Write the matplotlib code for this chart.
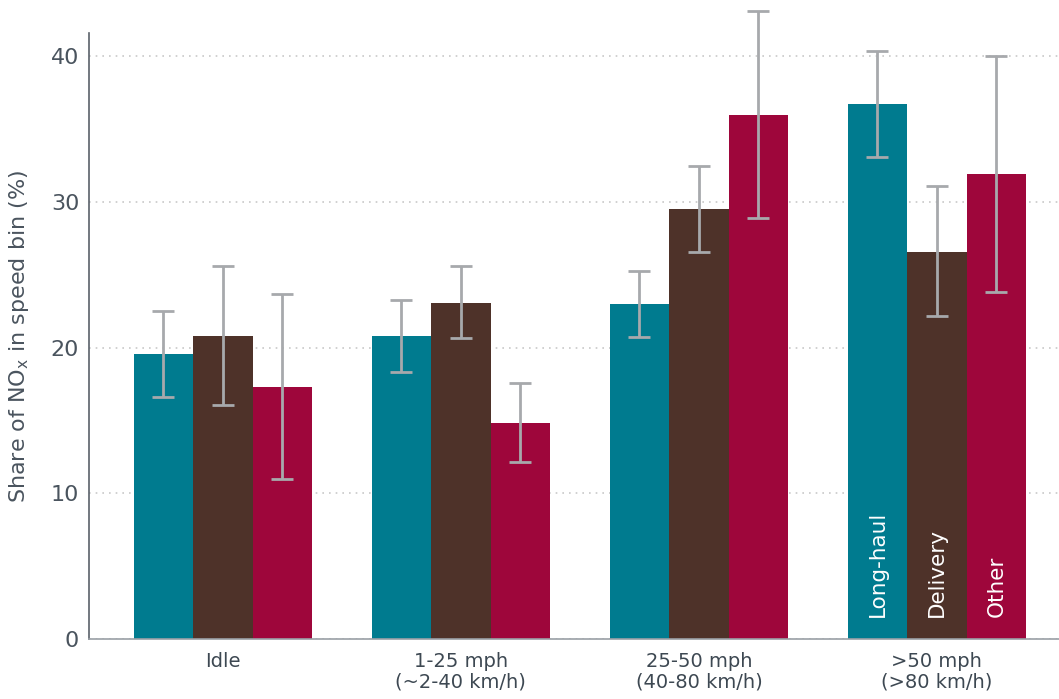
import matplotlib
matplotlib.use("Agg")
import matplotlib.pyplot as plt
import numpy as np

# Data
categories = ["Idle", "1-25 mph\n(~2-40 km/h)", "25-50 mph\n(40-80 km/h)", ">50 mph\n(>80 km/h)"]
series = ["Long-haul", "Delivery", "Other"]
long_haul = [19.55, 20.8, 23.0, 36.7]
delivery = [20.8, 23.05, 29.5, 26.6]
other = [17.3, 14.8, 36.0, 31.9]
long_haul_err_lo = [16.6, 18.3, 20.7, 33.1]
long_haul_err_hi = [22.5, 23.3, 25.25, 40.35]
delivery_err_lo = [16.05, 20.65, 26.55, 22.2]
delivery_err_hi = [25.6, 25.6, 32.5, 31.1]
other_err_lo = [11.0, 12.15, 28.9, 23.8]
other_err_hi = [23.7, 17.55, 43.1, 40.05]

colors = ["#007b8f", "#4e3229", "#9e063b"]
err_color = "#a7a9ac"
text_color = "#3d4852"

plt.rcParams['font.family'] = ['DejaVu Sans']

fig = plt.figure(figsize=(10.59, 6.99), dpi=100)
ax = fig.add_axes([0.084, 0.0858, 0.916, 0.867])

x = np.arange(len(categories))
width = 0.25
values = [long_haul, delivery, other]
lows = [long_haul_err_lo, delivery_err_lo, other_err_lo]
highs = [long_haul_err_hi, delivery_err_hi, other_err_hi]

for i, (vals, lo, hi) in enumerate(zip(values, lows, highs)):
    pos = x + (i - 1) * width
    vals = np.array(vals)
    yerr = [vals - np.array(lo), np.array(hi) - vals]
    ax.bar(pos, vals, width, color=colors[i], zorder=2)
    eb = ax.errorbar(pos, vals, yerr=yerr, fmt="none", ecolor=err_color,
                     elinewidth=2, capsize=8, capthick=2, zorder=3)
    for artist in eb.get_children():
        artist.set_clip_on(False)
    # series label inside the last group
    ax.text(pos[-1], 1.5, series[i], rotation=90, color="white",
            ha="center", va="bottom", fontsize=15.5)

ax.set_xlim(-0.563, 3.513)
ax.set_ylim(0, 41.6)
ax.set_yticks([0, 10, 20, 30, 40])
ax.set_xticks(x)
ax.set_xticklabels(categories, fontsize=14, color=text_color, linespacing=1.12)
ax.tick_params(axis="y", length=0, pad=7, labelsize=16, labelcolor="#4a545e")
ax.tick_params(axis="x", length=0, pad=9)

ax.grid(axis="y", linestyle=(0, (1, 3)), color="#c8c8c8", linewidth=1.2, zorder=0)
ax.set_axisbelow(True)

for s in ["top", "right"]:
    ax.spines[s].set_visible(False)
ax.spines["left"].set_color("#5a6169")
ax.spines["left"].set_linewidth(1.2)
ax.spines["bottom"].set_color("#9aa0a6")
ax.spines["bottom"].set_linewidth(1.2)

ax.set_ylabel("Share of NO$_\\mathregular{x}$ in speed bin (%)", fontsize=16,
              color="#4a545e", labelpad=14)

fig.savefig("out.png", dpi=100)
